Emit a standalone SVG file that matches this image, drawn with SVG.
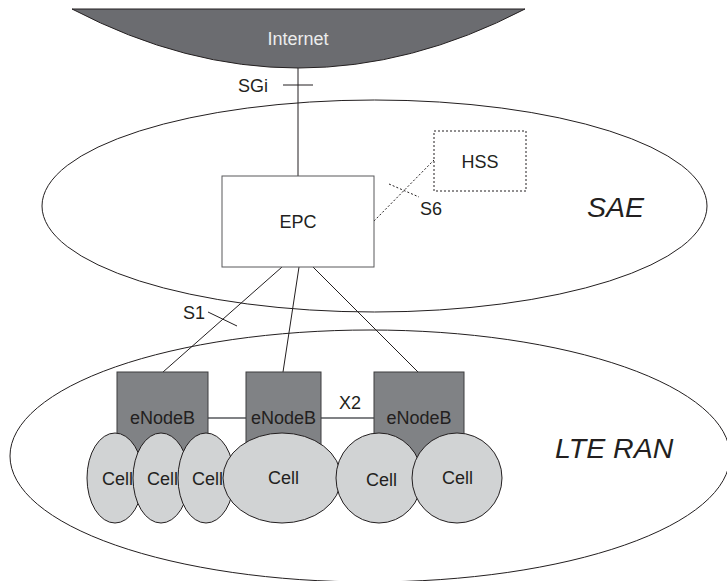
<svg xmlns="http://www.w3.org/2000/svg" width="727" height="581" viewBox="0 0 727 581">
  <style>
    .txt { font-family: "Liberation Sans", Arial, sans-serif; font-size: 18px; fill: #231f20; }
    .big { font-family: "Liberation Sans", Arial, sans-serif; font-size: 28.5px; font-style: italic; fill: #231f20; }
    .domain { fill: none; stroke: #231f20; stroke-width: 1; }
    .link { fill: none; stroke: #231f20; stroke-width: 1; }
    .dotted { fill: none; stroke: #231f20; stroke-width: 1; stroke-dasharray: 2 2; }
    .x2 { fill: none; stroke: #808285; stroke-width: 2; }
    .enb { fill: #808285; stroke: #3d3d3f; stroke-width: 1; }
    .cell { fill: #d1d3d4; stroke: #231f20; stroke-width: 1; }
  </style>

  <rect width="727" height="581" fill="#ffffff"/>

  <!-- Domain outlines -->
  <g id="sae-domain">
    <ellipse class="domain" cx="374.5" cy="206" rx="332.5" ry="106"/>
    <text class="big" x="587" y="217">SAE</text>
  </g>
  <g id="lte-ran-domain">
    <ellipse class="domain" cx="370" cy="456" rx="360" ry="126"/>
    <text class="big" x="555" y="458">LTE RAN</text>
  </g>

  <!-- Internet cloud -->
  <g id="internet">
    <path d="M72,9 L525,9 Q298,127 72,9 Z" fill="#6b6c70" stroke="#231f20" stroke-width="1"/>
    <text class="txt" x="298" y="45" text-anchor="middle" style="fill:#ececec">Internet</text>
  </g>

  <!-- Connectors and interface labels -->
  <g id="connectors">
    <line class="link" x1="298" y1="68" x2="298" y2="176"/>
    <line class="link" x1="283" y1="85" x2="313" y2="85"/>
    <text class="txt" x="238" y="92">SGi</text>

    <line class="dotted" x1="374" y1="221" x2="434" y2="160"/>
    <line class="dotted" x1="389" y1="184" x2="419" y2="197"/>
    <text class="txt" x="420" y="215">S6</text>

    <line class="link" x1="282" y1="267" x2="163" y2="372"/>
    <line class="link" x1="299" y1="267" x2="283" y2="372"/>
    <line class="link" x1="313" y1="267" x2="418" y2="372"/>
    <line class="link" x1="208" y1="312" x2="237" y2="326"/>
    <text class="txt" x="183" y="319">S1</text>

    <line class="x2" x1="208" y1="418" x2="246" y2="418"/>
    <line class="x2" x1="321" y1="418" x2="374" y2="418"/>
    <text class="txt" x="339" y="409">X2</text>
  </g>

  <!-- Core nodes -->
  <g id="epc">
    <rect x="222" y="176" width="152" height="91" fill="#ffffff" stroke="#58595b" stroke-width="1"/>
    <text class="txt" x="298" y="228" text-anchor="middle">EPC</text>
  </g>
  <g id="hss">
    <rect class="dotted" x="434" y="131" width="92" height="60"/>
    <text class="txt" x="480" y="168" text-anchor="middle">HSS</text>
  </g>

  <!-- Base stations -->
  <g id="enodeb-1">
    <rect class="enb" x="117" y="372" width="91" height="88"/>
    <text class="txt" x="162.5" y="424" text-anchor="middle">eNodeB</text>
  </g>
  <g id="enodeb-2">
    <rect class="enb" x="246" y="372" width="75" height="88"/>
    <text class="txt" x="283.5" y="424" text-anchor="middle">eNodeB</text>
  </g>
  <g id="enodeb-3">
    <rect class="enb" x="374" y="372" width="90" height="88"/>
    <text class="txt" x="419" y="424" text-anchor="middle">eNodeB</text>
  </g>

  <!-- Radio cells -->
  <g id="cell-1">
    <ellipse class="cell" cx="115" cy="478" rx="28" ry="45"/>
    <text class="txt" x="102" y="485">Cell</text>
  </g>
  <g id="cell-2">
    <ellipse class="cell" cx="161" cy="478" rx="28" ry="45"/>
    <text class="txt" x="147" y="485">Cell</text>
  </g>
  <g id="cell-3">
    <ellipse class="cell" cx="206" cy="478" rx="28" ry="45"/>
    <text class="txt" x="192" y="485">Cell</text>
  </g>
  <g id="cell-4">
    <ellipse class="cell" cx="282" cy="478" rx="59" ry="45"/>
    <text class="txt" x="283.5" y="484" text-anchor="middle">Cell</text>
  </g>
  <g id="cell-5">
    <ellipse class="cell" cx="379" cy="478" rx="43" ry="45"/>
    <text class="txt" x="381.5" y="486" text-anchor="middle">Cell</text>
  </g>
  <g id="cell-6">
    <ellipse class="cell" cx="457" cy="478" rx="45" ry="45"/>
    <text class="txt" x="457.5" y="484" text-anchor="middle">Cell</text>
  </g>
</svg>
